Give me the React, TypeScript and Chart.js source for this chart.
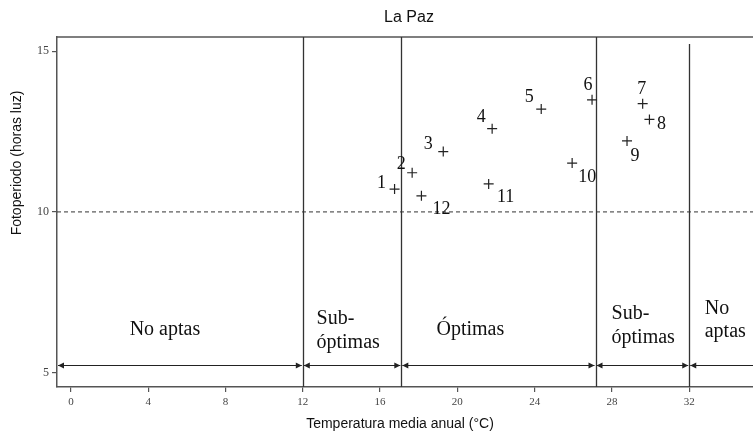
import React, { useEffect, useRef } from "react";
import { Chart, registerables } from "chart.js";

Chart.register(...registerables);

// ---- data ----
const pointLabels = ["1", "2", "3", "4", "5", "6", "7", "8", "9", "10", "11", "12"];
const tempValues = [16.75, 17.66, 19.27, 21.8, 24.34, 26.97, 29.59, 29.94, 28.78, 25.94, 21.62, 18.14];
const photoValues = [10.71, 11.22, 11.88, 12.59, 13.2, 13.49, 13.37, 12.88, 12.21, 11.52, 10.87, 10.5];
const xTicks = [0, 4, 8, 12, 16, 20, 24, 28, 32];
const yTicks = [5, 10, 15];
const zoneBounds = [12, 17.1, 27.15, 32];
const photoThreshold = 10;
const zoneNames = [["No aptas"], ["Sub-", "óptimas"], ["Óptimas"], ["Sub-", "óptimas"], ["No", "aptas"]];
const chartTitle = "La Paz";
const xTitle = "Temperatura media anual (°C)";
const yTitle = "Fotoperiodo (horas luz)";

// ---- layout (pixels / axis units for annotations) ----
const labelOffsets: [number, number][] = [
  [-13, -7], [-11, -10], [-15, -9], [-11, -13], [-12, -13], [-4, -16],
  [-1, -16], [12, 4], [8, 14], [15, 13], [17, 12], [20, 12],
];
const zoneLabelLeft = [3.04, 12.71, 18.92, 27.98, 32.8];
const zoneLabelBaselines = [[6.16], [6.5, 5.76], [6.16], [6.66, 5.91], [6.82, 6.1]];
const arrowLevel = 5.25;

const SERIF = '"Liberation Serif", "Times New Roman", serif';
const SANS = '"Liberation Sans", Arial, sans-serif';

const annotations = {
  id: "annotations",
  beforeDatasetsDraw(chart: any) {
    const { ctx, chartArea: a, scales } = chart;
    const xs = scales.x, ys = scales.y;
    ctx.save();
    // top border
    ctx.strokeStyle = "#555";
    ctx.lineWidth = 1.5;
    ctx.beginPath();
    ctx.moveTo(a.left, a.top);
    ctx.lineTo(a.right, a.top);
    ctx.stroke();
    // dashed threshold
    ctx.strokeStyle = "#333";
    ctx.lineWidth = 1;
    ctx.setLineDash([4, 3]);
    const yT = ys.getPixelForValue(photoThreshold);
    ctx.beginPath();
    ctx.moveTo(a.left, yT);
    ctx.lineTo(a.right, yT);
    ctx.stroke();
    ctx.setLineDash([]);
    // zone lines
    ctx.strokeStyle = "#333";
    ctx.lineWidth = 1.3;
    zoneBounds.forEach((b, i) => {
      const px = Math.round(xs.getPixelForValue(b)) + 0.5;
      ctx.beginPath();
      ctx.moveTo(px, i === zoneBounds.length - 1 ? a.top + 7 : a.top);
      ctx.lineTo(px, a.bottom);
      ctx.stroke();
    });
    // arrows
    const ay = Math.round(ys.getPixelForValue(arrowLevel)) + 0.5;
    const ends = [a.left, ...zoneBounds.map((b) => xs.getPixelForValue(b)), a.right + 20];
    ctx.strokeStyle = "#222";
    ctx.fillStyle = "#222";
    ctx.lineWidth = 1.2;
    const head = (tip: number, dir: number) => {
      ctx.beginPath();
      ctx.moveTo(tip, ay);
      ctx.lineTo(tip - dir * 6, ay - 3);
      ctx.lineTo(tip - dir * 6, ay + 3);
      ctx.closePath();
      ctx.fill();
    };
    for (let i = 0; i < ends.length - 1; i++) {
      const l = ends[i] + 1, r = ends[i + 1] - 1;
      ctx.beginPath();
      ctx.moveTo(l, ay);
      ctx.lineTo(r, ay);
      ctx.stroke();
      head(l, -1);
      if (i < ends.length - 2) head(r, 1);
    }
    // zone labels
    ctx.fillStyle = "#111";
    ctx.font = `20px ${SERIF}`;
    ctx.textAlign = "left";
    ctx.textBaseline = "alphabetic";
    zoneNames.forEach((lines, i) => {
      lines.forEach((t, j) => {
        ctx.fillText(t, xs.getPixelForValue(zoneLabelLeft[i]), ys.getPixelForValue(zoneLabelBaselines[i][j]));
      });
    });
    ctx.restore();
  },
  afterDatasetsDraw(chart: any) {
    const { ctx, scales } = chart;
    const xs = scales.x, ys = scales.y;
    ctx.save();
    ctx.fillStyle = "#111";
    ctx.font = `18px ${SERIF}`;
    ctx.textAlign = "center";
    ctx.textBaseline = "alphabetic";
    pointLabels.forEach((t, i) => {
      const px = xs.getPixelForValue(tempValues[i]) + labelOffsets[i][0];
      const py = ys.getPixelForValue(photoValues[i]) + labelOffsets[i][1];
      ctx.fillText(t, px, py + 6);
    });
    // titles
    ctx.fillStyle = "#111";
    ctx.font = `16px ${SANS}`;
    ctx.textBaseline = "middle";
    ctx.fillText(chartTitle, 409, 18);
    ctx.font = `14px ${SANS}`;
    ctx.fillText(xTitle, 400, 424);
    ctx.translate(17, 163);
    ctx.rotate(-Math.PI / 2);
    ctx.fillText(yTitle, 0, 0);
    ctx.restore();
  },
};

export default function App() {
  const ref = useRef<HTMLCanvasElement>(null);
  useEffect(() => {
    if (!ref.current) return;
    const chart = new Chart(ref.current, {
      type: "scatter",
      data: {
        datasets: [
          {
            data: tempValues.map((x, i) => ({ x, y: photoValues[i] })),
            pointStyle: "cross",
            pointRadius: 5,
            pointHoverRadius: 5,
            borderColor: "#222",
            backgroundColor: "#222",
            borderWidth: 1.2,
          },
        ],
      },
      options: {
        responsive: false,
        animation: false,
        devicePixelRatio: 1,
        layout: { autoPadding: false, padding: { top: 37, left: 0, right: 0, bottom: 0 } },
        plugins: { legend: { display: false }, tooltip: { enabled: false }, title: { display: false } },
        scales: {
          x: {
            type: "linear",
            min: -0.72,
            max: 35.3,
            afterBuildTicks: (s: any) => {
              s.ticks = xTicks.map((v) => ({ value: v }));
            },
            afterFit: (s: any) => {
              s.height = 47;
              s.paddingLeft = 0;
              s.paddingRight = 0;
            },
            grid: { drawOnChartArea: false, drawTicks: true, tickLength: 5, color: "#555", lineWidth: 1.2 },
            border: { display: true, color: "#555", width: 1.5 },
            ticks: { color: "#444", font: { family: SERIF, size: 11 }, padding: 4, maxRotation: 0 },
          },
          y: {
            type: "linear",
            min: 4.55,
            max: 15.445,
            afterBuildTicks: (s: any) => {
              s.ticks = yTicks.map((v) => ({ value: v }));
            },
            afterFit: (s: any) => {
              s.width = 57;
              s.paddingTop = 0;
              s.paddingBottom = 0;
            },
            grid: { drawOnChartArea: false, drawTicks: true, tickLength: 5, color: "#555", lineWidth: 1.2 },
            border: { display: true, color: "#555", width: 1.5 },
            ticks: { color: "#444", font: { family: SERIF, size: 12 }, padding: 3 },
          },
        },
      },
      plugins: [annotations],
    });
    return () => chart.destroy();
  }, []);
  return (
    <div style={{ position: "absolute", left: 0, top: 0, width: 753, height: 434 }}>
      <canvas ref={ref} width={753} height={434} style={{ display: "block" }} />
    </div>
  );
}
